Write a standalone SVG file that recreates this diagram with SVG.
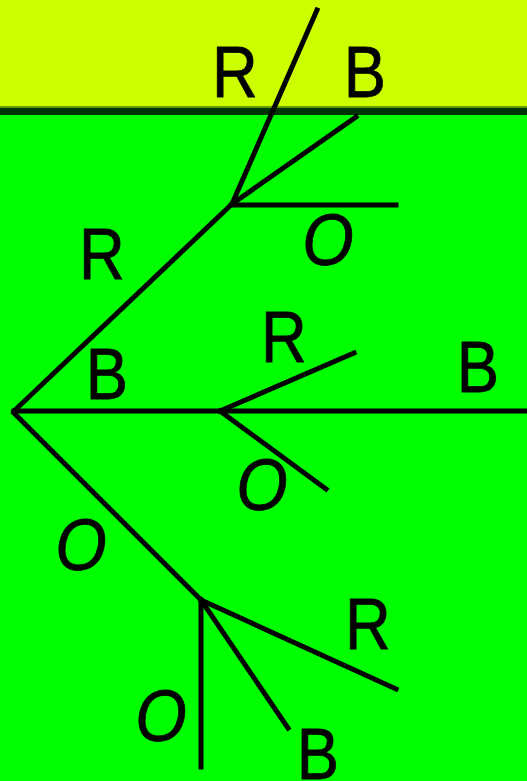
<svg xmlns="http://www.w3.org/2000/svg" width="527" height="781" viewBox="0 0 527 781">
<style>
.e{stroke:#000;stroke-width:5;stroke-linecap:square;fill:none}
.t{font-family:"Liberation Sans",Arial,sans-serif;font-size:72px;fill:#000;text-anchor:middle;stroke:#000;stroke-width:0.8}
.o{font-style:italic}
</style>
<rect x="0" y="0" width="527" height="781" fill="#00ff00"/>
<rect x="0" y="0" width="527" height="106" fill="#ccff00"/>
<rect x="0" y="106" width="527" height="2" fill="#669900"/>
<rect x="0" y="108" width="527" height="7" fill="#003300"/>
<g id="connectors">
<line class="e" x1="317" y1="10" x2="232" y2="204"/>
<line class="e" x1="356" y1="117" x2="232" y2="204"/>
<line class="e" x1="232" y1="205" x2="396" y2="205"/>
<line class="e" x1="232" y1="204" x2="14" y2="411"/>
<line class="e" x1="14" y1="411" x2="530" y2="411"/>
<line class="e" x1="220" y1="411" x2="354" y2="353"/>
<line class="e" x1="220" y1="411" x2="326" y2="489"/>
<line class="e" x1="14" y1="413" x2="201" y2="600"/>
<line class="e" x1="201" y1="600" x2="396" y2="689"/>
<line class="e" x1="201" y1="600" x2="288" y2="728"/>
<line class="e" x1="201" y1="600" x2="201" y2="767"/>
</g>
<g id="labels">
<text class="t" x="235" y="97" transform="translate(235 0) scale(0.88 1) translate(-235 0)">R</text>
<text class="t" x="365" y="97" transform="translate(365 0) scale(0.88 1) translate(-365 0)">B</text>
<text class="t o" x="328" y="265" transform="translate(328 0) scale(0.92 1) translate(-328 0)">O</text>
<text class="t" x="102" y="279" transform="translate(102 0) scale(0.88 1) translate(-102 0)">R</text>
<text class="t" x="107" y="399" transform="translate(107 0) scale(0.88 1) translate(-107 0)">B</text>
<text class="t" x="284" y="362" transform="translate(284 0) scale(0.88 1) translate(-284 0)">R</text>
<text class="t" x="478" y="392" transform="translate(478 0) scale(0.88 1) translate(-478 0)">B</text>
<text class="t o" x="262" y="510" transform="translate(262 0) scale(0.92 1) translate(-262 0)">O</text>
<text class="t o" x="81" y="570" transform="translate(81 0) scale(0.92 1) translate(-81 0)">O</text>
<text class="t" x="368" y="649" transform="translate(368 0) scale(0.88 1) translate(-368 0)">R</text>
<text class="t o" x="161" y="741" transform="translate(161 0) scale(0.92 1) translate(-161 0)">O</text>
<text class="t" x="318" y="779" transform="translate(318 0) scale(0.88 1) translate(-318 0)">B</text>
</g>
</svg>
